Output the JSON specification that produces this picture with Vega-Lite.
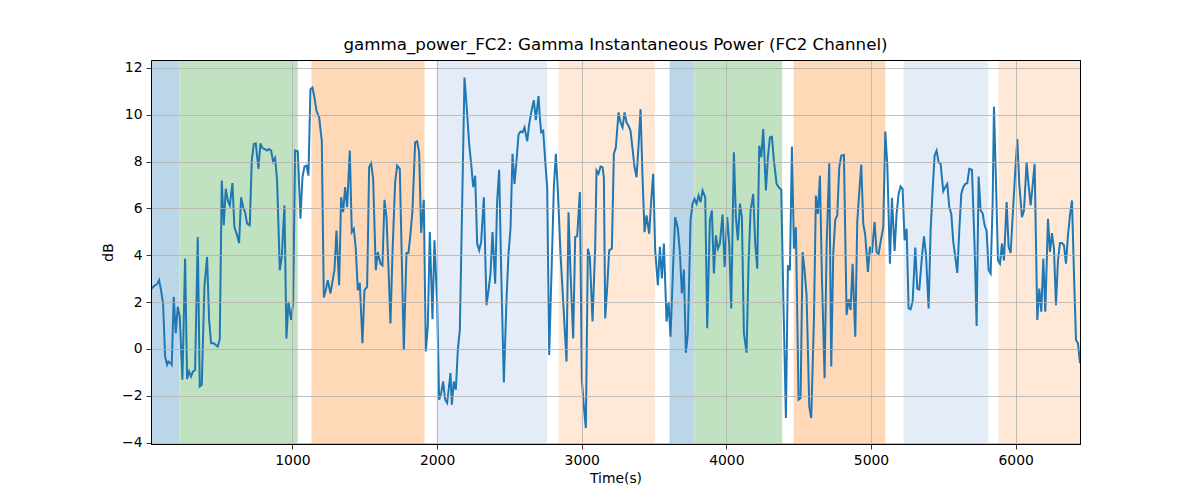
{
"$schema": "https://vega.github.io/schema/vega-lite/v6.json",
"width": 929, "height": 384,
"autosize": {"type": "none"},
"padding": {"left": 151, "top": 60, "right": 120, "bottom": 56},
"background": "white",
"title": {"text": "gamma_power_FC2: Gamma Instantaneous Power (FC2 Channel)", "font": "DejaVu Sans", "fontSize": 16.7, "fontWeight": "normal", "color": "black", "offset": 6},
"config": {
  "view": {"stroke": "black", "strokeWidth": 1},
  "axis": {"domain": true, "domainColor": "black", "domainWidth": 1, "grid": true, "gridColor": "#b0b0b0", "gridWidth": 0.8, "tickColor": "black", "tickSize": 5, "tickWidth": 0.8, "labelFont": "DejaVu Sans", "labelFontSize": 13.9, "labelColor": "black", "labelPadding": 4, "titleFont": "DejaVu Sans", "titleFontSize": 13.9, "titleFontWeight": "normal", "titleColor": "black"}
},
"resolve": {"axis": {"x": "independent", "y": "independent"}},
"datasets": {
  "spans": [
    {"start": 10, "end": 218.5, "phase": "A"},
    {"start": 218.5, "end": 1037, "phase": "B"},
    {"start": 1131.5, "end": 1913, "phase": "C"},
    {"start": 1996, "end": 2761, "phase": "D"},
    {"start": 2840, "end": 3508, "phase": "E"},
    {"start": 3607, "end": 3778, "phase": "A"},
    {"start": 3778, "end": 4386, "phase": "B"},
    {"start": 4465, "end": 5099, "phase": "C"},
    {"start": 5225, "end": 5811, "phase": "D"},
    {"start": 5882, "end": 6460, "phase": "E"}
  ],
  "series": [
{"time":22,"db":2.54},{"time":36.4,"db":2.65},{"time":50.3,"db":2.72},{"time":64.1,"db":2.77},{"time":77.9,"db":2.94},{"time":91.7,"db":2.5},{"time":105.6,"db":1.94},{"time":119.4,"db":-0.33},{"time":133.2,"db":-0.68},{"time":142.5,"db":-0.54},{"time":156.3,"db":-0.6},{"time":165.5,"db":-0.68},{"time":179.3,"db":2.23},{"time":193.2,"db":0.67},{"time":207,"db":1.8},{"time":220.8,"db":1.38},{"time":239.3,"db":-1.31},{"time":257.7,"db":3.86},{"time":271.5,"db":-1.28},{"time":285.4,"db":-0.96},{"time":299.2,"db":-1.18},{"time":313,"db":-0.96},{"time":326.8,"db":-0.9},{"time":345.3,"db":4.78},{"time":359.1,"db":-1.6},{"time":373,"db":-1.53},{"time":391.4,"db":2.65},{"time":409.8,"db":3.93},{"time":423.7,"db":1.24},{"time":437.5,"db":0.24},{"time":455.9,"db":0.24},{"time":469.8,"db":0.17},{"time":483.6,"db":0.1},{"time":497.4,"db":0.41},{"time":511.3,"db":7.19},{"time":525.1,"db":5.28},{"time":538.9,"db":6.84},{"time":552.7,"db":6.34},{"time":566.6,"db":6.13},{"time":585,"db":7.08},{"time":598.8,"db":5.2},{"time":617.3,"db":4.85},{"time":631.1,"db":4.52},{"time":644.9,"db":6.48},{"time":658.8,"db":6.06},{"time":672.6,"db":5.84},{"time":686.4,"db":5.35},{"time":704.9,"db":5.28},{"time":718.7,"db":8.04},{"time":732.5,"db":8.75},{"time":746.4,"db":8.78},{"time":764.8,"db":7.69},{"time":778.6,"db":8.78},{"time":792.5,"db":8.58},{"time":806.3,"db":8.54},{"time":824.7,"db":8.47},{"time":838.6,"db":8.54},{"time":852.4,"db":8.47},{"time":866.2,"db":8.0},{"time":880.1,"db":8.16},{"time":893.9,"db":7.19},{"time":912.3,"db":3.36},{"time":926.2,"db":3.93},{"time":944.6,"db":6.13},{"time":958.4,"db":0.45},{"time":972.3,"db":2.01},{"time":990.7,"db":1.24},{"time":1004.5,"db":1.94},{"time":1018.4,"db":8.47},{"time":1036.8,"db":8.44},
{"time":1055.3,"db":5.56},{"time":1069.1,"db":7.33},{"time":1083,"db":7.79},{"time":1096.8,"db":7.83},{"time":1110.6,"db":7.4},{"time":1124.5,"db":11.09},{"time":1138.3,"db":11.16},{"time":1152.1,"db":10.74},{"time":1166,"db":10.17},{"time":1184.4,"db":9.89},{"time":1202.8,"db":8.89},{"time":1216.7,"db":2.2},{"time":1230.5,"db":2.51},{"time":1244.3,"db":2.94},{"time":1262.8,"db":2.37},{"time":1276.6,"db":2.87},{"time":1290.4,"db":3.36},{"time":1304.3,"db":5.06},{"time":1322.7,"db":2.72},{"time":1336.5,"db":6.48},{"time":1350.3,"db":5.84},{"time":1364.2,"db":6.91},{"time":1378,"db":6.06},{"time":1396.4,"db":8.47},{"time":1410.3,"db":4.99},{"time":1424.1,"db":5.13},{"time":1437.9,"db":4.28},{"time":1451.8,"db":2.51},{"time":1465.6,"db":2.82},{"time":1484,"db":0.24},{"time":1497.9,"db":2.51},{"time":1516.3,"db":2.65},{"time":1530.1,"db":7.76},{"time":1544,"db":7.93},{"time":1557.8,"db":7.26},{"time":1576.2,"db":3.36},{"time":1590.1,"db":4.14},{"time":1608.5,"db":3.64},{"time":1622.3,"db":3.57},{"time":1636.2,"db":6.37},{"time":1650,"db":5.63},{"time":1663.8,"db":3.5},{"time":1677.7,"db":1.09},{"time":1691.5,"db":4.06},{"time":1709.9,"db":7.12},{"time":1723.8,"db":7.83},{"time":1742.2,"db":7.69},{"time":1769.9,"db":-0.05},{"time":1788.3,"db":4.1},{"time":1802.1,"db":4.1},{"time":1816,"db":4.92},{"time":1829.8,"db":5.91},{"time":1848.2,"db":8.82},{"time":1862.1,"db":8.87},{"time":1875.9,"db":8.4},{"time":1889.7,"db":4.96},{"time":1908.2,"db":6.37},{"time":1922,"db":-0.11},{"time":1935.8,"db":0.95},{"time":1949.6,"db":4.99},{"time":1968.1,"db":1.27},{"time":1981.9,"db":4.64},{"time":2000.4,"db":1.94},{"time":2014.2,"db":-2.17},{"time":2028,"db":-1.89},{"time":2041.9,"db":-1.39},{"time":2055.7,"db":-2.17},{"time":2069.5,"db":-2.31},
{"time":2092.7,"db":-1.03},{"time":2101.9,"db":-2.38},{"time":2115.7,"db":-1.39},{"time":2129.6,"db":-1.74},{"time":2143.4,"db":-0.04},{"time":2157.3,"db":0.81},{"time":2189.5,"db":11.59},{"time":2203.3,"db":10.45},{"time":2221.8,"db":8.75},{"time":2235.6,"db":7.9},{"time":2249.4,"db":6.91},{"time":2263.3,"db":7.4},{"time":2277.1,"db":4.5},{"time":2290.9,"db":4.21},{"time":2304.8,"db":4.57},{"time":2323.2,"db":6.48},{"time":2341.6,"db":1.87},{"time":2355.5,"db":2.51},{"time":2369.3,"db":3.22},{"time":2383.1,"db":4.99},{"time":2401.6,"db":2.79},{"time":2415.4,"db":6.34},{"time":2429.2,"db":7.65},{"time":2443.1,"db":3.36},{"time":2461.5,"db":-1.43},{"time":2479.9,"db":2.09},{"time":2493.8,"db":4.06},{"time":2507.6,"db":5.13},{"time":2521.4,"db":8.33},{"time":2535.3,"db":7.05},{"time":2549.1,"db":8.04},{"time":2562.9,"db":9.15},{"time":2576.8,"db":9.29},{"time":2590.6,"db":9.25},{"time":2604.4,"db":9.46},{"time":2622.9,"db":8.87},{"time":2636.7,"db":9.6},{"time":2655.1,"db":10.24},{"time":2669,"db":10.62},{"time":2682.8,"db":9.77},{"time":2701.2,"db":10.8},{"time":2710.5,"db":9.89},{"time":2719.7,"db":9.25},{"time":2733.5,"db":9.32},{"time":2747.4,"db":8.04},{"time":2761.2,"db":6.91},{"time":2775,"db":-0.26},{"time":2793.4,"db":3.78},{"time":2807.3,"db":6.91},{"time":2821.1,"db":8.33},{"time":2834.9,"db":6.77},{"time":2853.4,"db":4.06},{"time":2876.4,"db":1.52},{"time":2894.9,"db":-0.54},{"time":2908.7,"db":5.84},{"time":2922.5,"db":3.22},{"time":2941,"db":0.45},{"time":2954.8,"db":4.78},{"time":2968.6,"db":4.81},{"time":2987,"db":6.7},{"time":3000.9,"db":-1.31},{"time":3014.7,"db":-2.45},{"time":3028.5,"db":-3.38},{"time":3042.4,"db":4.28},{"time":3056.2,"db":3.93},{"time":3074.6,"db":1.17},{"time":3093.1,"db":4.36},{"time":3102.3,"db":7.62},{"time":3116.1,"db":7.48},
{"time":3130,"db":7.79},{"time":3143.8,"db":7.76},{"time":3153.1,"db":7.33},{"time":3162.3,"db":1.3},{"time":3176.1,"db":2.65},{"time":3189.9,"db":4.21},{"time":3208.4,"db":4.28},{"time":3222.2,"db":8.33},{"time":3236,"db":8.61},{"time":3254.5,"db":10.1},{"time":3268.3,"db":9.67},{"time":3282.1,"db":9.46},{"time":3296,"db":10.1},{"time":3309.8,"db":9.67},{"time":3323.6,"db":9.53},{"time":3337.5,"db":9.32},{"time":3351.3,"db":8.54},{"time":3365.1,"db":7.76},{"time":3379,"db":7.33},{"time":3392.8,"db":8.68},{"time":3406.6,"db":10.24},{"time":3420.4,"db":7.33},{"time":3434.3,"db":4.99},{"time":3448.1,"db":5.7},{"time":3466.5,"db":4.92},{"time":3480.4,"db":6.34},{"time":3494.2,"db":7.48},{"time":3508,"db":4.21},{"time":3526.5,"db":2.72},{"time":3540.3,"db":4.36},{"time":3554.1,"db":3.01},{"time":3568,"db":4.5},{"time":3586.4,"db":1.17},{"time":3600.2,"db":2.01},{"time":3614.1,"db":0.52},{"time":3632.5,"db":3.64},{"time":3646.3,"db":5.63},{"time":3664.8,"db":5.13},{"time":3678.6,"db":4.14},{"time":3692.4,"db":2.37},{"time":3706.3,"db":3.39},{"time":3720.1,"db":-0.16},{"time":3733.9,"db":0.67},{"time":3752.4,"db":5.49},{"time":3766.2,"db":6.2},{"time":3780,"db":6.41},{"time":3793.9,"db":6.2},{"time":3807.7,"db":6.55},{"time":3821.5,"db":6.27},{"time":3835.3,"db":6.77},{"time":3853.8,"db":6.48},{"time":3867.6,"db":0.88},{"time":3886,"db":5.49},{"time":3899.9,"db":5.91},{"time":3913.7,"db":3.22},{"time":3927.5,"db":4.85},{"time":3941.4,"db":4.28},{"time":3955.2,"db":4.5},{"time":3973.6,"db":5.74},{"time":3987.5,"db":3.5},{"time":4005.9,"db":5.63},{"time":4019.7,"db":4.5},{"time":4033.6,"db":1.73},{"time":4052,"db":8.4},{"time":4065.8,"db":5.63},{"time":4079.7,"db":4.64},{"time":4093.5,"db":6.2},{"time":4107.3,"db":5.63},{"time":4121.2,"db":0.67},{"time":4139.6,"db":-0.16},{"time":4153.4,"db":3.64},
{"time":4167.4,"db":5.91},{"time":4185.8,"db":6.62},{"time":4199.7,"db":4.5},{"time":4213.5,"db":3.43},{"time":4227.3,"db":8.68},{"time":4241.2,"db":8.19},{"time":4255,"db":9.39},{"time":4273.4,"db":6.77},{"time":4287.2,"db":8.19},{"time":4301.1,"db":9.04},{"time":4314.9,"db":9.06},{"time":4328.8,"db":8.04},{"time":4347.2,"db":7.05},{"time":4361,"db":6.91},{"time":4379.5,"db":6.8},{"time":4393.3,"db":2.37},{"time":4411.7,"db":-2.95},{"time":4425.6,"db":3.57},{"time":4439.4,"db":3.36},{"time":4453.2,"db":8.64},{"time":4467.1,"db":4.28},{"time":4480.9,"db":5.2},{"time":4499.3,"db":-2.17},{"time":4513.2,"db":-2.1},{"time":4527,"db":4.14},{"time":4540.8,"db":3.36},{"time":4554.6,"db":2.3},{"time":4573.1,"db":-2.45},{"time":4586.9,"db":-2.95},{"time":4605.4,"db":1.24},{"time":4619.2,"db":6.55},{"time":4633,"db":5.77},{"time":4646.9,"db":7.4},{"time":4660.7,"db":3.08},{"time":4679.1,"db":-1.25},{"time":4693,"db":4.36},{"time":4711.4,"db":7.93},{"time":4725.2,"db":-0.75},{"time":4739,"db":4.06},{"time":4752.9,"db":5.52},{"time":4766.7,"db":5.7},{"time":4780.5,"db":7.76},{"time":4794.4,"db":8.26},{"time":4812.8,"db":8.28},{"time":4831.2,"db":1.45},{"time":4845.1,"db":2.12},{"time":4858.9,"db":1.67},{"time":4872.7,"db":3.64},{"time":4891.2,"db":0.52},{"time":4905,"db":5.42},{"time":4918.8,"db":6.7},{"time":4932.7,"db":7.87},{"time":4946.5,"db":5.35},{"time":4960.3,"db":4.85},{"time":4978.8,"db":3.29},{"time":4992.6,"db":4.36},{"time":5006.4,"db":4.1},{"time":5024.9,"db":5.42},{"time":5038.7,"db":4.14},{"time":5052.5,"db":4.06},{"time":5066.4,"db":4.57},{"time":5084.8,"db":5.2},{"time":5098.6,"db":9.29},{"time":5112.5,"db":7.9},{"time":5130.9,"db":3.64},{"time":5144.7,"db":6.45},{"time":5163.2,"db":4.18},{"time":5177,"db":5.77},{"time":5190.8,"db":6.62},
{"time":5204.7,"db":6.94},{"time":5218.5,"db":6.84},{"time":5232.4,"db":4.64},{"time":5246.2,"db":5.13},{"time":5260,"db":1.73},{"time":5273.9,"db":1.69},{"time":5287.7,"db":2.01},{"time":5306.1,"db":4.33},{"time":5320,"db":2.58},{"time":5333.8,"db":2.54},{"time":5352.2,"db":3.93},{"time":5366.1,"db":4.81},{"time":5379.9,"db":4.06},{"time":5398.3,"db":1.73},{"time":5412.2,"db":5.06},{"time":5426,"db":6.77},{"time":5439.8,"db":8.26},{"time":5453.6,"db":8.47},{"time":5467.5,"db":7.97},{"time":5481.3,"db":7.9},{"time":5499.7,"db":6.74},{"time":5513.6,"db":6.91},{"time":5527.4,"db":7.05},{"time":5541.2,"db":6.06},{"time":5555.1,"db":5.77},{"time":5568.9,"db":4.57},{"time":5582.7,"db":3.93},{"time":5596.6,"db":3.25},{"time":5610.4,"db":5.06},{"time":5624.2,"db":6.62},{"time":5638,"db":6.91},{"time":5651.9,"db":7.05},{"time":5665.7,"db":7.08},{"time":5679.5,"db":7.69},{"time":5698,"db":7.65},{"time":5716.4,"db":4.36},{"time":5730.2,"db":0.98},{"time":5744.1,"db":7.36},{"time":5757.9,"db":5.91},{"time":5771.7,"db":5.8},{"time":5785.6,"db":5.28},{"time":5799.4,"db":5.04},{"time":5813.2,"db":3.36},{"time":5827.1,"db":3.22},{"time":5840.9,"db":6.2},{"time":5850.1,"db":10.34},{"time":5863.9,"db":7.19},{"time":5877.8,"db":3.78},{"time":5891.6,"db":3.64},{"time":5905.4,"db":4.5},{"time":5919.3,"db":3.78},{"time":5937.7,"db":6.27},{"time":5951.5,"db":4.36},{"time":5965.4,"db":4.1},{"time":5979.2,"db":5.63},{"time":5997.6,"db":7.62},{"time":6011.5,"db":8.96},{"time":6025.3,"db":7.05},{"time":6043.7,"db":5.63},{"time":6057.6,"db":5.91},{"time":6076,"db":7.97},{"time":6089.8,"db":6.98},{"time":6103.7,"db":6.13},{"time":6117.5,"db":6.98},{"time":6131.3,"db":7.9},{"time":6149.8,"db":1.24},{"time":6163.6,"db":2.58},{"time":6177.4,"db":1.59},{"time":6191.3,"db":3.86},{"time":6205.1,"db":1.59},{"time":6223.5,"db":5.56},{"time":6237.4,"db":4.14},{"time":6251.2,"db":4.95},{"time":6265,"db":4.28},{"time":6278.9,"db":1.87},{"time":6292.7,"db":3.78},{"time":6306.5,"db":4.52},{"time":6320.3,"db":4.52},{"time":6334.2,"db":4.43},{"time":6348,"db":3.64},{"time":6361.8,"db":4.85},{"time":6375.7,"db":5.7},{"time":6389.5,"db":6.34},{"time":6403.3,"db":3.22},{"time":6417.2,"db":0.38},{"time":6431,"db":0.24},{"time":6445,"db":-0.61}
  ]
},
"layer": [
  {
    "data": {"name": "spans"},
    "mark": {"type": "rect", "clip": true},
    "encoding": {
      "x": {"field": "start", "type": "quantitative", "scale": {"domain": [22, 6445], "nice": false, "zero": false}, "axis": {"title": "Time(s)", "orient": "bottom", "values": [1000, 2000, 3000, 4000, 5000, 6000], "format": "d", "titlePadding": 5, "zindex": 1}},
      "x2": {"field": "end"},
      "color": {"field": "phase", "type": "nominal", "scale": {"domain": ["A", "B", "C", "D", "E"], "range": ["#bcd6e9", "#c0e2c0", "#ffd9b7", "#e4edf7", "#ffe9d6"]}, "legend": null}
    }
  },
  {
    "data": {"name": "series"},
    "mark": {"type": "line", "color": "#1f77b4", "strokeWidth": 2, "clip": true},
    "encoding": {
      "x": {"field": "time", "type": "quantitative", "axis": {"orient": "top", "title": null, "labels": false, "ticks": false, "grid": false, "domain": true, "zindex": 1}},
      "y": {"field": "db", "type": "quantitative", "scale": {"domain": [-4.06, 12.34], "nice": false, "zero": false}, "axis": {"title": "dB", "orient": "left", "values": [-4, -2, 0, 2, 4, 6, 8, 10, 12], "titlePadding": 6, "zindex": 1}}
    }
  },
  {
    "data": {"name": "series"},
    "mark": {"type": "line", "strokeOpacity": 0, "clip": true},
    "encoding": {
      "x": {"field": "time", "type": "quantitative", "axis": null},
      "y": {"field": "db", "type": "quantitative", "axis": {"orient": "right", "title": null, "labels": false, "ticks": false, "grid": false, "domain": true, "zindex": 1}}
    }
  }
]
}
